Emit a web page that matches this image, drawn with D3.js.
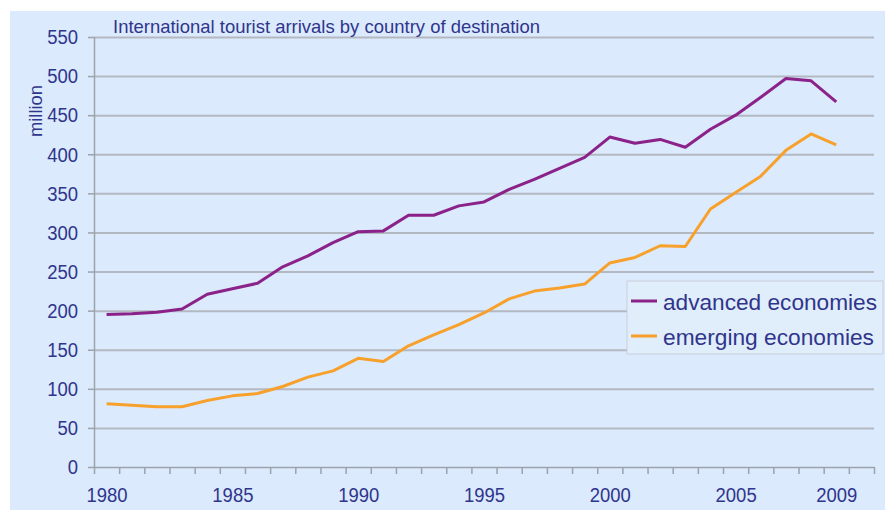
<!DOCTYPE html>
<html>
<head>
<meta charset="utf-8">
<script src="https://cdn.jsdelivr.net/npm/d3@7"></script>
<style>
  body { margin: 0; background: #fff; }
  svg { display: block; font-family: "Liberation Sans", Arial, sans-serif; }
</style>
</head>
<body>
<div id="chart"></div>
<script>
const YEARS = d3.range(1980, 2010);
const ADVANCED = [195, 196, 198, 202, 221, 228, 235, 256, 270, 287, 301, 302, 322, 322, 334,
  339, 355, 368, 382, 396, 422, 414, 419, 409, 432, 450, 473, 497, 494, 467];
const EMERGING = [81, 79, 77, 77, 85, 91, 94, 103, 115, 123, 139, 135, 155, 169, 182,
  197, 215, 225, 229, 234, 261, 268, 283, 282, 330, 351, 372, 405, 426, 412];
const X_LABELS = [1980, 1985, 1990, 1995, 2000, 2005, 2009];
const Y_TICKS = d3.range(0, 551, 50);
const SERIES = [
  { name: 'advanced economies', values: ADVANCED, color: '#8b2289' },
  { name: 'emerging economies', values: EMERGING, color: '#f7a12c' },
];

const W = 889, H = 510;
const TEXT = '#30358c';
const GRID = '#b3b8c1';
const AXIS = '#9da2ab';

const svg = d3.select('#chart').append('svg').attr('width', W).attr('height', H);

svg.append('rect').attr('x', 10).attr('y', 11).attr('width', 875).attr('height', H - 11)
  .attr('fill', '#dbeafc');

const plotL = 94, plotR = 874, plotT = 37, plotB = 467;

// one slot per year, 1980..2010 (the last slot stays empty)
const x = d3.scaleLinear().domain([1979.5, 2010.5]).range([plotL, plotR]);
const y = d3.scaleLinear().domain([0, 550]).range([plotB, plotT]);

// gridlines
svg.append('g').attr('transform', `translate(${plotL},0)`)
  .call(d3.axisLeft(y).tickValues(Y_TICKS.filter(v => v > 0)).tickSize(-(plotR - plotL)).tickFormat(''))
  .call(g => g.select('.domain').remove())
  .call(g => g.selectAll('line').attr('stroke', GRID).attr('stroke-width', 2));

// y axis
svg.append('g').attr('transform', `translate(${plotL},0)`)
  .call(d3.axisLeft(y).tickValues(Y_TICKS).tickSize(6).tickSizeOuter(0))
  .call(g => g.select('.domain').attr('stroke', AXIS).attr('stroke-width', 1.5))
  .call(g => g.selectAll('line').attr('stroke', AXIS).attr('stroke-width', 1.5))
  .call(g => g.selectAll('text').attr('fill', TEXT).attr('font-size', 21)
    .attr('x', -18.2).attr('transform', 'scale(0.88,1)'));

// x axis ticks between years
svg.append('g').attr('transform', `translate(0,${plotB})`)
  .call(d3.axisBottom(x).tickValues(d3.range(1979.5, 2011, 1)).tickSize(7).tickSizeOuter(0).tickFormat(''))
  .call(g => g.select('.domain').attr('stroke', AXIS).attr('stroke-width', 1.5))
  .call(g => g.selectAll('line').attr('stroke', AXIS).attr('stroke-width', 1.5));

// x labels centred on years
svg.append('g').attr('transform', `translate(0,${plotB})`)
  .call(d3.axisBottom(x).tickValues(X_LABELS).tickSize(0).tickFormat(d3.format('d')))
  .call(g => g.select('.domain').remove())
  .call(g => g.selectAll('text').attr('fill', TEXT).attr('font-size', 21)
    .attr('y', 35).attr('dy', 0).attr('transform', 'scale(0.88,1)'));

const line = d3.line().x((d, i) => x(YEARS[i])).y(d => y(d));

SERIES.forEach(s => {
  svg.append('path').datum(s.values).attr('d', line)
    .attr('fill', 'none').attr('stroke', s.color).attr('stroke-width', 3)
    .attr('stroke-linejoin', 'round');
});

svg.append('text').attr('x', 113).attr('y', 33).attr('fill', TEXT).attr('font-size', 19)
  .attr('textLength', 427).attr('lengthAdjust', 'spacingAndGlyphs')
  .text('International tourist arrivals by country of destination');

svg.append('text').attr('transform', 'translate(42,111) rotate(-90)').attr('text-anchor', 'middle')
  .attr('fill', TEXT).attr('font-size', 19)
  .attr('textLength', 52).attr('lengthAdjust', 'spacingAndGlyphs')
  .text('million');

// legend
const legend = svg.append('g');
legend.append('rect').attr('x', 627).attr('y', 281).attr('width', 256).attr('height', 73)
  .attr('fill', '#e0edfb').attr('stroke', '#c9d0da').attr('stroke-width', 1);
const legendLen = [214, 211];
SERIES.forEach((s, i) => {
  const ly = 301 + i * 35;
  legend.append('line').attr('x1', 631).attr('x2', 657).attr('y1', ly).attr('y2', ly)
    .attr('stroke', s.color).attr('stroke-width', 3);
  legend.append('text').attr('x', 663).attr('y', ly + 9).attr('fill', TEXT).attr('font-size', 22.5)
    .attr('textLength', legendLen[i]).attr('lengthAdjust', 'spacingAndGlyphs')
    .text(s.name);
});
</script>
</body>
</html>
